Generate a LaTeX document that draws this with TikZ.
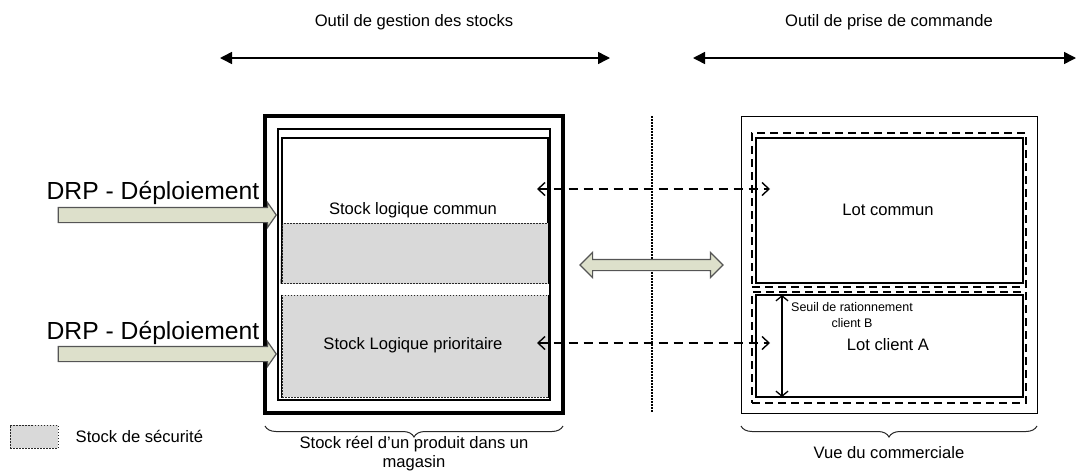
\documentclass[tikz,border=0pt]{standalone}
\usepackage{fontspec}
\setmainfont{Liberation Sans}
\usetikzlibrary{positioning,arrows.meta,calc,shapes.arrows,decorations.pathreplacing}
\definecolor{SecuGrey}{RGB}{217,217,217}
\definecolor{DrpFill}{RGB}{221,224,203}
\definecolor{DrpEdge}{RGB}{85,85,85}
\definecolor{LineGrey}{RGB}{40,40,40}
\tikzset{
  lbl/.style={font=\fontsize{16.6}{19}\selectfont,inner sep=0pt,align=center},
  biglbl/.style={font=\fontsize{24.7}{28}\selectfont,inner sep=0pt},
  smalllbl/.style={font=\fontsize{12.5}{16}\selectfont,inner sep=0pt,align=center},
  spanarrow/.style={{Triangle[length=12pt,width=12pt]}-{Triangle[length=12pt,width=12pt]},line width=1.5pt},
  reelbox/.style={draw,line width=4pt,inner sep=0pt},
  magbox/.style={draw,line width=2pt,inner sep=0pt},
  logbox/.style={draw,line width=1.3pt,inner sep=0pt},
  logline/.style={line width=1.3pt},
  lotbox/.style={draw,line width=1.5pt,inner sep=0pt},
  vuebox/.style={draw,line width=1pt,inner sep=0pt},
  lotframe/.style={draw,line width=1.3pt,dash pattern=on 8pt off 5pt,inner sep=0pt},
  secu/.style={fill=SecuGrey,draw=LineGrey,line width=1pt,dash pattern=on 1.5pt off 1.5pt,inner sep=0pt},
  drp/.style={single arrow,draw=DrpEdge,fill=DrpFill,line width=1.2pt,inner xsep=0pt,inner ysep=7pt,
    minimum height=218pt,single arrow head extend=5pt,single arrow tip angle=110},
  syncarrow/.style={double arrow,draw=DrpEdge,fill=DrpFill,line width=1.2pt,inner xsep=0pt,inner ysep=5pt,
    minimum height=143pt,double arrow head extend=7pt,double arrow tip angle=90},
  syncline/.style={{Straight Barb[length=7pt,width=13pt]}-{Straight Barb[length=7pt,width=13pt]},
    line width=1.4pt,dash pattern=on 9pt off 6pt},
  seuilarrow/.style={{Straight Barb[length=5pt,width=12pt]}-{Straight Barb[length=5pt,width=12pt]},line width=1.3pt},
  sepline/.style={line width=1.3pt,dash pattern=on 1.5pt off 1.5pt},
  accolade/.style={decorate,decoration={brace,amplitude=11pt},line width=1pt,draw=LineGrey}
}
\begin{document}
\begin{tikzpicture}[x=1pt,y=-1pt]
  \useasboundingbox (0,0) rectangle (1077,472);

  \node[lbl] (gestion) at (414,22) {Outil de gestion des stocks};
  \node[lbl] (commande) at (889,22) {Outil de prise de commande};
  \coordinate (gestL) at (220,58);
  \coordinate (gestR) at (610,58);
  \coordinate (cmdL) at (693,58);
  \coordinate (cmdR) at (1076,58);
  \draw[spanarrow] (gestL) -- (gestR);
  \draw[spanarrow] (cmdL) -- (cmdR);

  \node[reelbox,minimum width=298pt,minimum height=297pt] (reel) at (414,264.5) {};
  \node[magbox,minimum width=272pt,minimum height=271pt] (magasin) at (414,264.5) {};
  \node[logbox,minimum width=266pt,minimum height=145pt] (commun) at (415,210.5) {};
  \coordinate (secuTop) at (282,223);
  \draw[secu] (secuTop) rectangle (commun.south east);
  \draw[logline] (secuTop) -- (commun.south west) (secuTop -| commun.east) -- (commun.south east);
  \node[lbl] (communlbl) at (413,210) {Stock logique commun};
  \node[secu,minimum width=266pt,minimum height=102pt] (prior) at (415,346) {};
  \draw[logline] (prior.north west) -- (prior.south west) (prior.north east) -- (prior.south east);
  \node[lbl] (priorlbl) at (413,345) {Stock Logique prioritaire};

  \node[drp,anchor=tip] (drpA) at ($(magasin.west)+(0,-49.5)$) {};
  \node[drp,anchor=tip] (drpB) at ($(magasin.west)+(0,89.5)$) {};
  \node[biglbl] (drpAlbl) at (153,193) {DRP - Déploiement};
  \node[biglbl] (drpBlbl) at (153,333) {DRP - Déploiement};

  \coordinate (sepTop) at (652,116);
  \coordinate (sepBot) at (652,412);
  \draw[sepline] (sepTop) -- (sepBot);
  \node[syncarrow] (sync) at (651.5,265) {};

  \node[vuebox,minimum width=296pt,minimum height=297pt] (vue) at (889,264.5) {};
  \node[lotframe,minimum width=274pt,minimum height=154pt] (cadreA) at (889,210) {};
  \node[lotbox,minimum width=267pt,minimum height=145pt] (lotcommun) at (889.5,210.5) {};
  \node[lbl] (lotcommunlbl) at (888,210) {Lot commun};
  \node[lotframe,minimum width=274pt,minimum height=111pt] (cadreB) at (889,347.5) {};
  \node[lotbox,minimum width=267pt,minimum height=102pt] (lotA) at (889.5,346) {};
  \node[lbl] (lotAlbl) at (888,345) {Lot client A};
  \coordinate (seuilTop) at (782,295);
  \coordinate (seuilBot) at (782,397);
  \draw[seuilarrow] (seuilTop) -- (seuilBot);
  \node[smalllbl] (seuillbl) at (852,315) {Seuil de rationnement\\client B};

  \coordinate (communEnd) at (537,189);
  \coordinate (lotcommunEnd) at (770,189);
  \coordinate (priorEnd) at (537,343);
  \coordinate (lotAEnd) at (770,343);
  \draw[syncline] (communEnd) -- (lotcommunEnd);
  \draw[syncline] (priorEnd) -- (lotAEnd);

  \coordinate (reelR) at (563,426);
  \coordinate (reelL) at (265,426);
  \draw[accolade] (reelR) -- (reelL);
  \node[lbl] (reellbl) at (414,453.5) {Stock réel d’un produit dans un\\magasin};
  \coordinate (vueR) at (1037,426);
  \coordinate (vueL) at (741,426);
  \draw[accolade] (vueR) -- (vueL);
  \node[lbl] (vuelbl) at (889,453) {Vue du commerciale};

  \node[secu,minimum width=48pt,minimum height=23pt] (legende) at (34,436.5) {};
  \node[lbl,right=17pt of legende] (legendelbl) {Stock de sécurité};
\end{tikzpicture}
\end{document}
